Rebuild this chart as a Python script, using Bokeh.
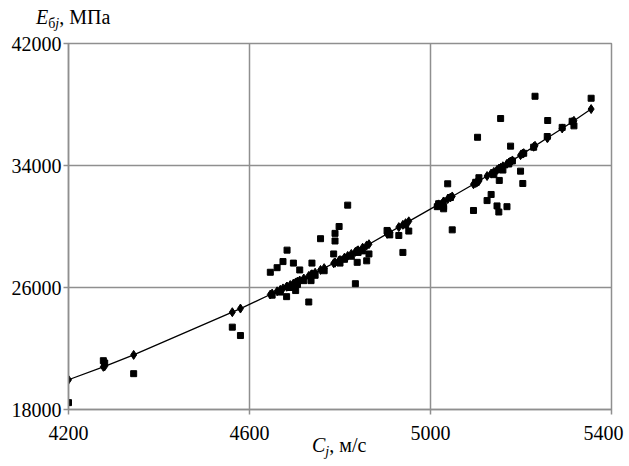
from bokeh.plotting import figure
from bokeh.models import Range1d, FixedTicker, ColumnDataSource, Div
from bokeh.layouts import column
from bokeh.embed import file_html
from bokeh.resources import INLINE

# ---- data ----
C = [4200, 4277, 4280, 4344, 4562, 4580,
     4646, 4650, 4661, 4668, 4674, 4682, 4683, 4690, 4697, 4702, 4706, 4711,
     4720, 4731, 4736, 4738, 4745, 4757, 4765, 4786, 4789, 4789, 4798, 4800,
     4810, 4817, 4825, 4834, 4838, 4840, 4850, 4859, 4864,
     4904, 4910, 4930, 4939, 4945, 4952,
     5015, 5018, 5029, 5029, 5038, 5044, 5048,
     5095, 5100, 5104, 5107, 5125, 5134, 5140, 5147, 5151, 5152, 5155, 5160,
     5169, 5173, 5177, 5181, 5199, 5204, 5206, 5228, 5231, 5258, 5259, 5291,
     5313, 5317, 5355]

E_measured = [18450, 21200, 21050, 20350, 23400, 22850,
              27000, 25500, 27300, 25700, 27700, 25400, 28450, 26000, 27600, 25800, 26200, 27150,
              26450, 25050, 26450, 27600, 26800, 29200, 27100, 28200, 29550, 29050, 30000, 27600,
              27850, 31400, 28050, 26250, 27650, 28300, 28400, 27750, 28200,
              29740, 29450, 29410, 28300, 30100, 29700,
              31300, 31490, 31160, 31310, 32800, 31900, 29780,
              31050, 32900, 35850, 33200, 31700, 32100, 33400, 31350, 30950, 33020, 37080, 33700,
              31300, 34100, 35270, 34300, 33630, 32820, 34800, 35200, 38540, 35900, 36950, 36500,
              36900, 36600, 38410]

E_fitted = [19950, 20800, 20830, 21580, 24380, 24620,
            25540, 25600, 25750, 25850, 25940, 26050, 26060, 26160, 26260, 26330, 26390, 26460,
            26590, 26760, 26840, 26870, 26970, 27150, 27270, 27590, 27630, 27630, 27770, 27800,
            27960, 28070, 28200, 28340, 28410, 28440, 28610, 28760, 28840,
            29520, 29620, 29960, 30110, 30220, 30340,
            31400, 31450, 31640, 31640, 31800, 31900, 31970,
            32770, 32850, 32920, 32980, 33310, 33470, 33580, 33710, 33780, 33800, 33850, 33950,
            34110, 34190, 34260, 34330, 34680, 34780, 34810, 35230, 35290, 35800, 35820, 36430,
            36850, 36930, 37700]

x_ticks = [4200, 4600, 5000, 5400]
y_ticks = [18000, 26000, 34000, 42000]
x_tick_labels = {4200: "4200", 4600: "4600", 5000: "5000", 5400: "5400\u00a0"}

y_title_html = '<i>E</i><span style="font-size:14px;vertical-align:-4px">б<i>j</i></span>, МПа'
x_title_html = '<i>C</i><span style="font-size:14px;vertical-align:-4px"><i>j</i></span>, м/с'

# ---- layout ----
W = 628
TOP_H = 31
FRAME_TOP, FRAME_BOTTOM = 43, 409
BORDER_BOTTOM = 37
PLOT_H = FRAME_BOTTOM + BORDER_BOTTOM - TOP_H
GRID = "#8f8f8f"
FONT = "Liberation Serif"

p = figure(width=W, height=PLOT_H, output_backend="svg", toolbar_location=None,
           x_range=Range1d(x_ticks[0], x_ticks[-1]), y_range=Range1d(y_ticks[0], y_ticks[-1]),
           min_border_left=68, min_border_right=W - 611,
           min_border_top=FRAME_TOP - TOP_H, min_border_bottom=BORDER_BOTTOM)

p.background_fill_color = "white"
p.border_fill_color = "white"
p.border_fill_alpha = 0
p.outline_line_color = GRID
p.outline_line_width = 1.5

for ax in (p.xaxis[0], p.yaxis[0]):
    ax.axis_line_color = GRID
    ax.axis_line_width = 1.5
    ax.major_tick_line_color = GRID
    ax.major_tick_line_width = 1.5
    ax.major_tick_out = 5
    ax.major_tick_in = 0
    ax.minor_tick_line_color = None
    ax.major_label_text_font = FONT
    ax.major_label_text_font_size = "20px"
    ax.major_label_text_color = "black"

p.xaxis.ticker = FixedTicker(ticks=x_ticks)
p.yaxis.ticker = FixedTicker(ticks=y_ticks)
p.xaxis.major_label_standoff = 7
p.yaxis.major_label_standoff = 2
p.xaxis.major_label_overrides = x_tick_labels

p.xgrid.ticker = FixedTicker(ticks=x_ticks)
p.ygrid.ticker = FixedTicker(ticks=y_ticks)
for g in (p.xgrid[0], p.ygrid[0]):
    g.grid_line_color = GRID
    g.grid_line_width = 1.5

src = ColumnDataSource(dict(c=C, e=E_measured, f=E_fitted))

p.line("c", "f", source=src, line_color="black", line_width=1.3)
p.scatter("c", "e", source=src, marker="square", size=6,
          fill_color="black", line_color="black")
p.scatter("c", "f", source=src, marker="diamond", size=9,
          fill_color="black", line_color="black")

div_style = "font-family:'Liberation Serif';font-size:20px;line-height:20px;color:black;white-space:nowrap;"
top = Div(text=f'<div style="{div_style}padding-left:36px;padding-top:7px">{y_title_html}</div>',
          width=W, height=TOP_H, margin=(0, 0, 0, 0))
bottom = Div(text=f'<div style="{div_style}padding-left:312px;padding-top:1px">{x_title_html}</div>',
             width=W, height=24, margin=(-12, 0, 0, 0))

layout = column(top, p, bottom, spacing=0)

open("out.html", "w").write(file_html(layout, INLINE))
